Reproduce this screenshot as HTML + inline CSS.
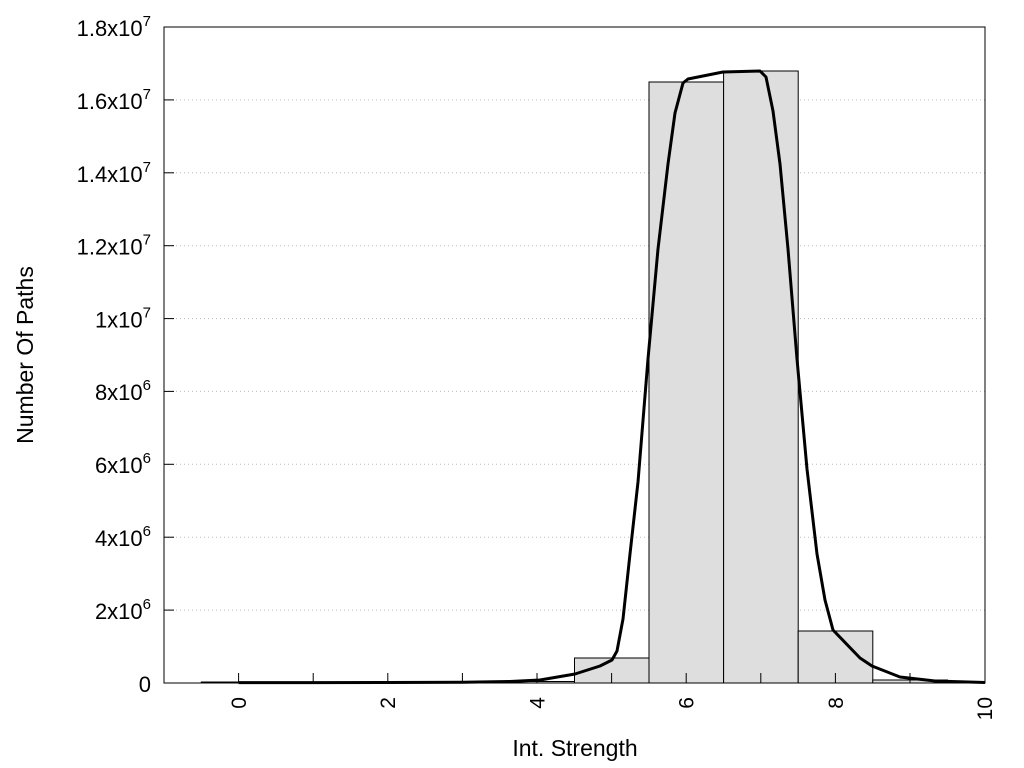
<!DOCTYPE html>
<html><head><style>body{margin:0;background:#fff}svg{display:block}text{font-family:"Liberation Sans",sans-serif;fill:#000}</style></head><body>
<svg width="1024" height="768" viewBox="0 0 1024 768" xmlns="http://www.w3.org/2000/svg">
<g stroke="#bbb" stroke-dasharray="1,3" stroke-width="1">
<line x1="164" y1="610.1" x2="985" y2="610.1"/><line x1="164" y1="537.2" x2="985" y2="537.2"/><line x1="164" y1="464.3" x2="985" y2="464.3"/><line x1="164" y1="391.4" x2="985" y2="391.4"/><line x1="164" y1="318.6" x2="985" y2="318.6"/><line x1="164" y1="245.7" x2="985" y2="245.7"/><line x1="164" y1="172.8" x2="985" y2="172.8"/><line x1="164" y1="99.9" x2="985" y2="99.9"/>
</g>
<g fill="#dedede" stroke="#000" stroke-width="1">
<rect x="201.3" y="682" width="74.6" height="1"/><rect x="275.9" y="682" width="74.6" height="1"/><rect x="350.5" y="682" width="74.6" height="1"/><rect x="425.1" y="682" width="74.6" height="1"/><rect x="499.7" y="681.5" width="74.6" height="1.5"/>
<rect x="574.5" y="658" width="74.6" height="25"/>
<rect x="649" y="82" width="74.6" height="601"/>
<rect x="723.6" y="71" width="74.6" height="612"/>
<rect x="798.2" y="631" width="74.6" height="52"/>
<rect x="872.8" y="680" width="74.6" height="3"/>
<rect x="947.4" y="682" width="37.6" height="1"/>
</g>
<polyline fill="none" stroke="#000" stroke-width="3" stroke-linejoin="round" points="238.6,682.6 313,682.6 388,682.5 463,682.3 510,681.5 540,680 575,674 600,666 612,660 617,651 623,619 630,554 638,482 648,359 658,249 668,164 675,113 683,83 688,79 723,72 760,71 766,77 773,111 780,164 788,249 797,359 807,469 817,554 825,600 833,630 860,658 872,666 900,677 935,681 985,682.5"/>
<rect x="164" y="27" width="821" height="656" fill="none" stroke="#000" stroke-width="1"/>
<g stroke="#000" stroke-width="1">
<line x1="164" y1="610.1" x2="174" y2="610.1"/><line x1="164" y1="537.2" x2="174" y2="537.2"/><line x1="164" y1="464.3" x2="174" y2="464.3"/><line x1="164" y1="391.4" x2="174" y2="391.4"/><line x1="164" y1="318.6" x2="174" y2="318.6"/><line x1="164" y1="245.7" x2="174" y2="245.7"/><line x1="164" y1="172.8" x2="174" y2="172.8"/><line x1="164" y1="99.9" x2="174" y2="99.9"/>
<line x1="238.6" y1="683" x2="238.6" y2="673"/><line x1="313.2" y1="683" x2="313.2" y2="673"/><line x1="387.8" y1="683" x2="387.8" y2="673"/><line x1="462.4" y1="683" x2="462.4" y2="673"/><line x1="537" y1="683" x2="537" y2="673"/><line x1="611.6" y1="683" x2="611.6" y2="673"/><line x1="686.2" y1="683" x2="686.2" y2="673"/><line x1="760.8" y1="683" x2="760.8" y2="673"/><line x1="835.4" y1="683" x2="835.4" y2="673"/><line x1="910" y1="683" x2="910" y2="673"/>
</g>
<g font-size="22" text-anchor="end">
<text x="151" y="692">0</text>
<text x="151" y="619">2x10<tspan font-size="15" dy="-10">6</tspan></text>
<text x="151" y="546">4x10<tspan font-size="15" dy="-10">6</tspan></text>
<text x="151" y="473">6x10<tspan font-size="15" dy="-10">6</tspan></text>
<text x="151" y="400">8x10<tspan font-size="15" dy="-10">6</tspan></text>
<text x="151" y="327.6">1x10<tspan font-size="15" dy="-10">7</tspan></text>
<text x="151" y="254.7">1.2x10<tspan font-size="15" dy="-10">7</tspan></text>
<text x="151" y="181.8">1.4x10<tspan font-size="15" dy="-10">7</tspan></text>
<text x="151" y="108.9">1.6x10<tspan font-size="15" dy="-10">7</tspan></text>
<text x="151" y="36">1.8x10<tspan font-size="15" dy="-10">7</tspan></text>
</g>
<g font-size="21" text-anchor="end">
<text transform="translate(246,697) rotate(-90)">0</text>
<text transform="translate(395.2,697) rotate(-90)">2</text>
<text transform="translate(544.4,697) rotate(-90)">4</text>
<text transform="translate(693.6,697) rotate(-90)">6</text>
<text transform="translate(842.8,697) rotate(-90)">8</text>
<text transform="translate(992,697) rotate(-90)">10</text>
</g>
<text x="575" y="756" font-size="23" text-anchor="middle">Int. Strength</text>
<text transform="translate(33,355) rotate(-90)" font-size="23" text-anchor="middle">Number Of Paths</text>
</svg>
</body></html>
